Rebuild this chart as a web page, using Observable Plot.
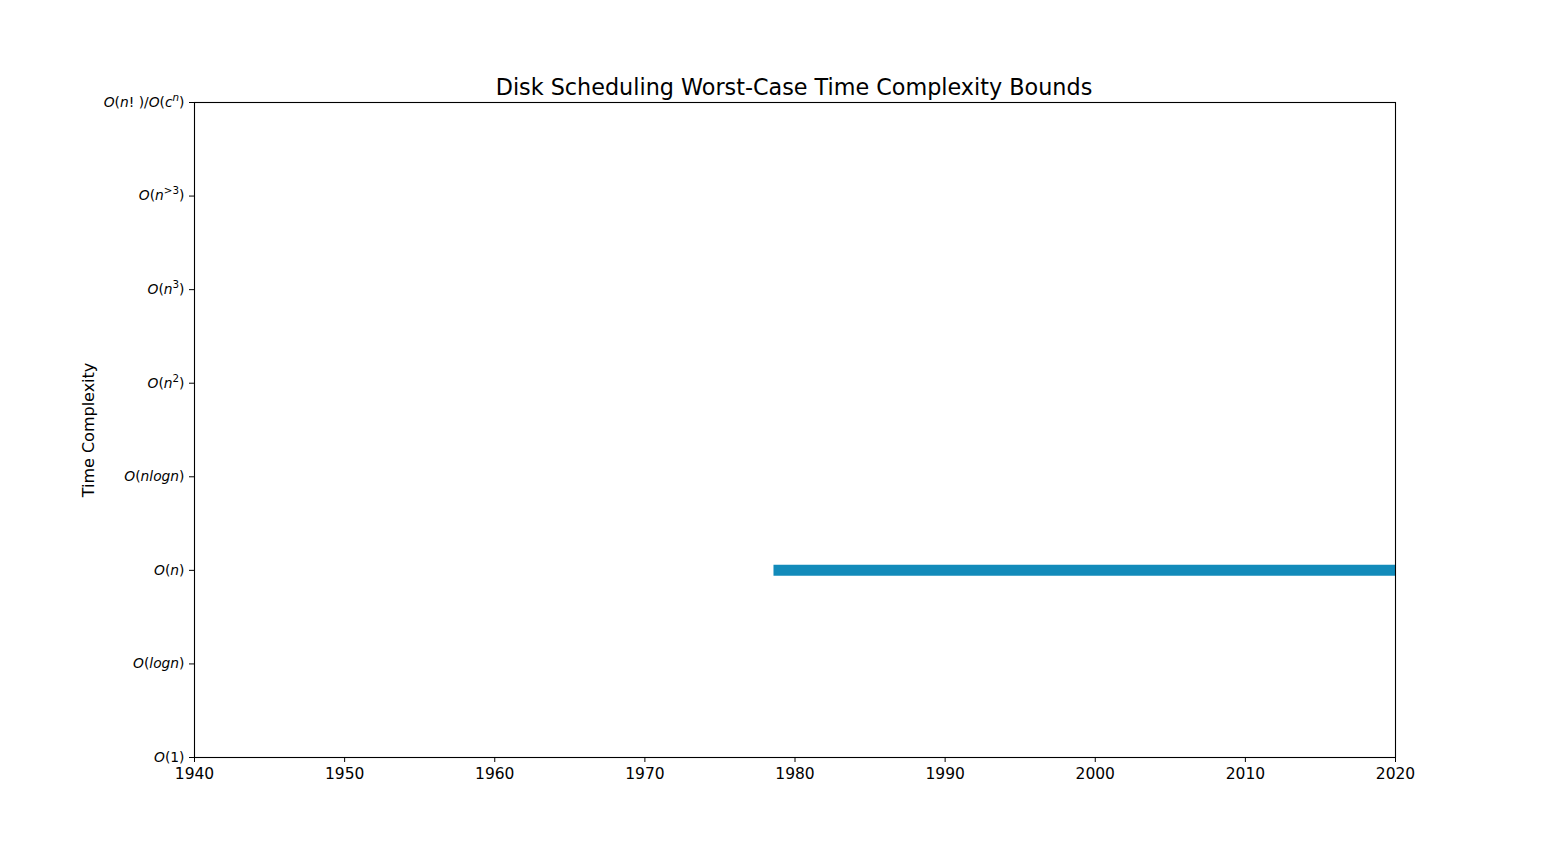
<!DOCTYPE html>
<html>
<head>
<meta charset="utf-8">
<script src="https://cdn.jsdelivr.net/npm/d3@7"></script>
<script src="https://cdn.jsdelivr.net/npm/@observablehq/plot@0.6"></script>
<style>
  body { margin: 0; background: white; font-family: "DejaVu Sans", sans-serif; }
  #wrap { position: relative; width: 1550px; height: 850px; }
  #title { position: absolute; left: 0; top: 74px; width: 1588px; text-align: center; font-size: 22.3px; color: black; line-height: 26px; }
  #chart { position: absolute; left: 0; top: 0; }
</style>
</head>
<body>
<div id="wrap">
  <div id="chart"></div>
  <div id="title">Disk Scheduling Worst-Case Time Complexity Bounds</div>
</div>
<script>
const complexityLabels = ["O(1)", "O(logn)", "O(n)", "O(nlogn)", "O(n^2)", "O(n^3)", "O(n^{>3})", "O(n! )/O(c^n)"];
const yearTicks = [1940, 1950, 1960, 1970, 1980, 1990, 2000, 2010, 2020];
const boundStart = [1978.6];
const boundEnd = [2020];
const boundLevel = ["O(n)"];

const bounds = boundStart.map((s, i) => ({start: s, end: boundEnd[i], level: complexityLabels.indexOf(boundLevel[i])}));

const chart = Plot.plot({
  width: 1550,
  height: 850,
  marginLeft: 194,
  marginRight: 155,
  marginTop: 102,
  marginBottom: 93,
  style: {fontFamily: "DejaVu Sans, sans-serif", background: "white", color: "black"},
  x: {domain: [1940, 2020], ticks: yearTicks, tickFormat: d3.format("d"), label: null},
  y: {domain: [0, complexityLabels.length - 1], ticks: d3.range(complexityLabels.length), tickFormat: i => complexityLabels[i], label: null},
  marks: [
    Plot.ruleY(bounds, {x1: "start", x2: "end", y: "level", stroke: "#128bba", strokeWidth: 11}),
    Plot.frame({stroke: "black", strokeWidth: 1.1}),
    Plot.axisX({ticks: yearTicks, tickFormat: d3.format("d"), tickSize: 5, tickPadding: 5, fontSize: 15.5, label: null, stroke: "black"}),
    Plot.axisY({ticks: d3.range(complexityLabels.length), tickFormat: i => complexityLabels[i], tickSize: 5, tickPadding: 5, fontSize: 13.8, label: null}),
    Plot.text(["Time Complexity"], {frameAnchor: "left", dx: -106, rotate: -90, textAnchor: "middle", fontSize: 16, fill: "black"})
  ]
});

// Render mathtext-like tick labels: letters italic, ^x superscripts
function mathify(textEl, s) {
  while (textEl.firstChild) textEl.removeChild(textEl.firstChild);
  const ns = "http://www.w3.org/2000/svg";
  let i = 0;
  const add = (str, sup) => {
    for (const ch of str) {
      const t = document.createElementNS(ns, "tspan");
      t.textContent = ch;
      if (/[a-zA-Z]/.test(ch)) t.setAttribute("font-style", "italic");
      if (sup) { t.setAttribute("font-size", "0.75em"); t.setAttribute("baseline-shift", "super"); }
      textEl.appendChild(t);
    }
  };
  while (i < s.length) {
    if (s[i] === "^") {
      let sup;
      if (s[i + 1] === "{") { const j = s.indexOf("}", i); sup = s.slice(i + 2, j); i = j + 1; }
      else { sup = s[i + 1]; i += 2; }
      add(sup, true);
    } else { add(s[i], false); i++; }
  }
}
chart.querySelectorAll("g[aria-label='y-axis tick label'] text").forEach(t => {
  const s = t.textContent;
  if (complexityLabels.includes(s)) mathify(t, s);
});

document.getElementById("chart").appendChild(chart);
</script>
</body>
</html>
